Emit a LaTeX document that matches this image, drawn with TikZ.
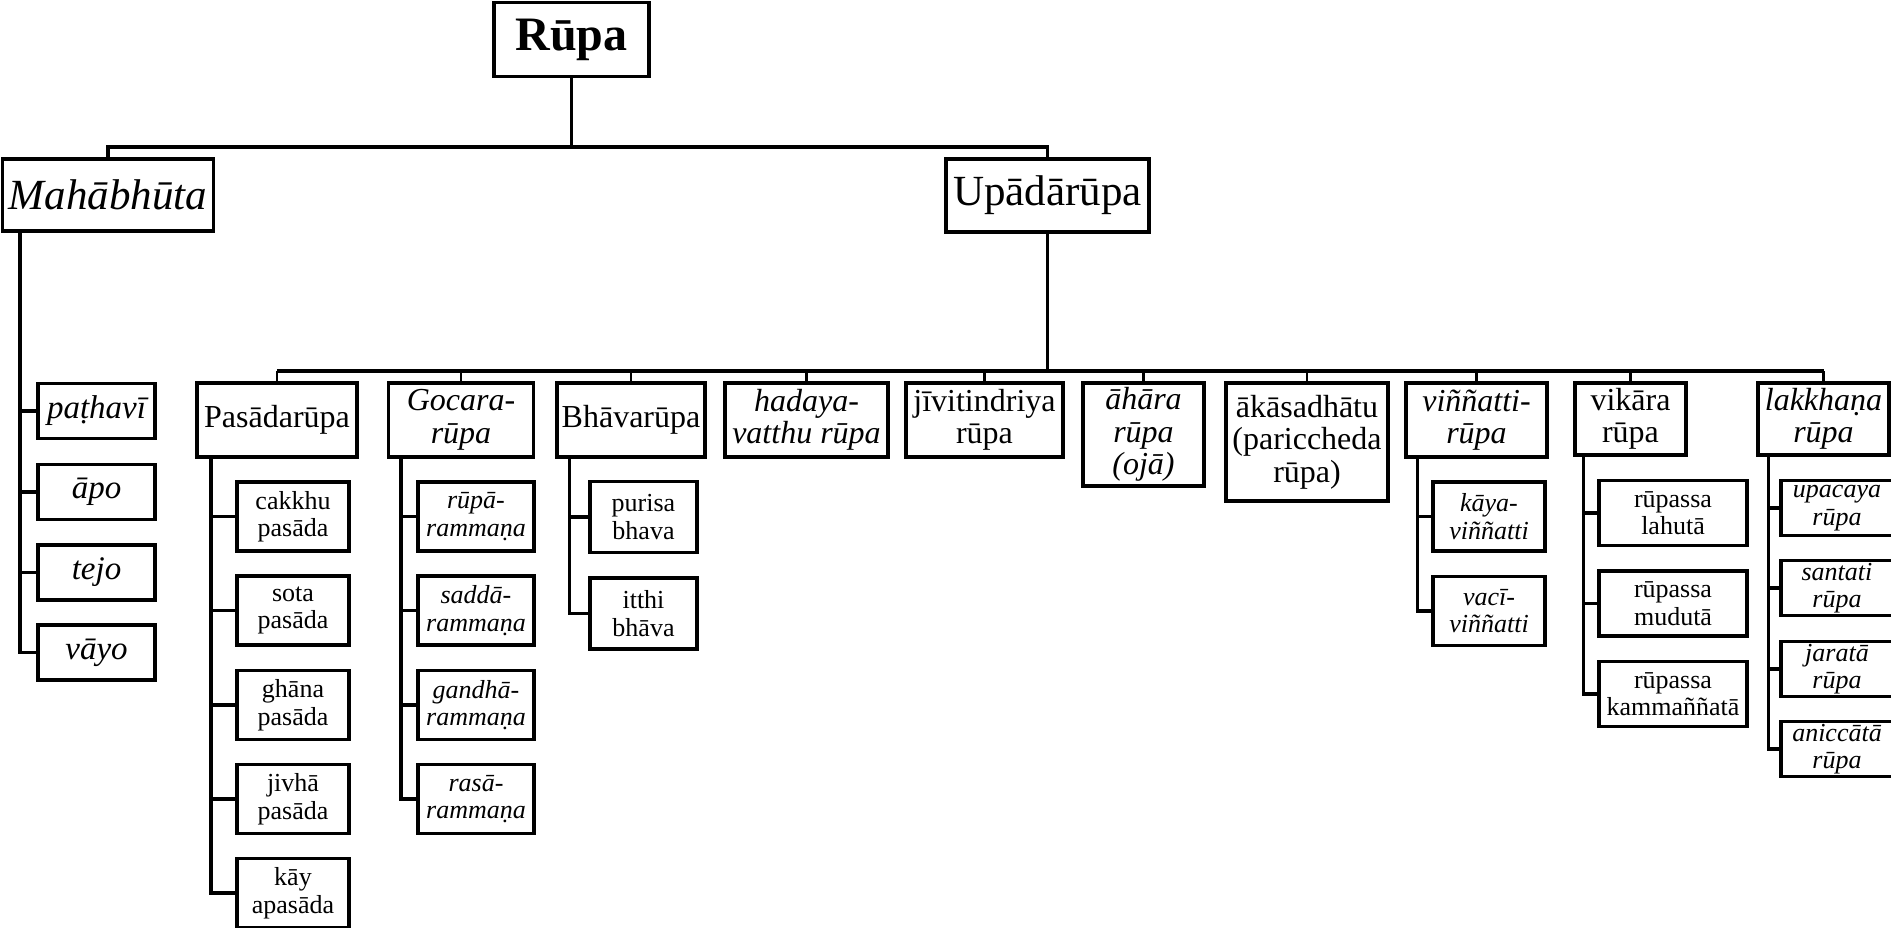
\documentclass[tikz,border=0pt]{standalone}
\usepackage{fontspec}
\setmainfont{Liberation Serif}
\usetikzlibrary{calc}

\tikzset{
  box/.style={draw, line width=3.2pt, inner sep=0pt, align=center},
  wire/.style={line width=3.2pt},
  riser/.style={line width=2.4pt},
  topfont/.style={font=\fontsize{43}{46}\selectfont},
  topfontit/.style={font=\fontsize{43}{46}\selectfont\itshape},
  midfont/.style={font=\fontsize{32}{32.5}\selectfont},
  midfontit/.style={font=\fontsize{32}{32.5}\selectfont\itshape},
  lowfont/.style={font=\fontsize{26}{27.5}\selectfont},
  lowfontit/.style={font=\fontsize{26}{27.5}\selectfont\itshape},
  elem/.style={box, font=\fontsize{33}{34}\selectfont\itshape, minimum width=117pt, minimum height=55pt},
  mid/.style={box, minimum height=74pt},
  pas/.style={box, lowfont, minimum width=112pt, minimum height=69pt},
  goc/.style={box, lowfontit, minimum width=116pt, minimum height=69pt},
  bha/.style={box, lowfont, minimum width=107pt, minimum height=71pt},
  vin/.style={box, lowfontit, minimum width=112pt, minimum height=69pt},
  vik/.style={box, lowfont, minimum width=148pt, minimum height=65pt},
  lak/.style={box, lowfontit, minimum width=112pt, minimum height=55pt},
}

\begin{document}
\begin{tikzpicture}[x=1pt,y=-1pt]
\clip (0,0) rectangle (1891,928);

% root and its two branches
\node[box, font=\fontsize{48}{50}\selectfont\bfseries, minimum width=155pt, minimum height=74pt] (rupa) at (571.5,39.5) {\raisebox{-3pt}{Rūpa}};
\node[box, topfontit, minimum width=211pt, minimum height=72pt] (maha) at (108,195) {Mahābhūta};
\node[box, topfont, minimum width=203pt, minimum height=73pt] (upada) at (1047.5,195.5) {Upādārūpa};

\coordinate (top) at (571.5,147);
\draw[wire] (rupa.south) -- (top);
\draw[wire] (maha.north) |- (top);
\draw[wire] (upada.north) |- (top);

% the four great elements
\node[elem] (e1) at (96.5,411)   {paṭhavī};
\node[elem] (e2) at (96.5,492)   {āpo};
\node[elem] (e3) at (96.5,572.5) {tejo};
\node[elem] (e4) at (96.5,652.5) {vāyo};
\foreach \n in {e1,e2,e3,e4}
  \draw[wire] ([xshift=19pt]maha.south west) |- (\n.west);

% derived matter
\node[mid, midfont,   minimum width=160pt] (pasada)   at (277,420)    {Pasādarūpa};
\node[mid, midfontit, minimum width=145pt] (gocara)   at (461,420)    {Gocara-\\rūpa};
\node[mid, midfont,   minimum width=148pt] (bhava)    at (631,420)    {Bhāvarūpa};
\node[mid, midfontit, minimum width=163pt] (hadaya)   at (806.5,420)  {hadaya-\\vatthu rūpa};
\node[mid, midfont,   minimum width=157pt] (jivit)    at (984.5,420)  {jīvitindriya\\rūpa};
\node[box, midfontit, minimum width=121pt, minimum height=103pt] (ahara) at (1143.5,434.5) {āhāra\\rūpa\\(ojā)};
\node[box, midfont,   minimum width=162pt, minimum height=118pt] (akasa) at (1307,442) {ākāsadhātu\\(pariccheda\\rūpa)};
\node[mid, midfontit, minimum width=141pt] (vinnatti) at (1476.5,420) {viññatti-\\rūpa};
\node[box, midfont,   minimum width=111pt, minimum height=72pt] (vikara)   at (1630.5,419) {vikāra\\rūpa};
\node[box, midfontit, minimum width=131pt, minimum height=72pt] (lakkhana) at (1823.5,419) {lakkhaṇa\\rūpa};

\coordinate (bus) at (1047.5,371);
\draw[wire] (upada.south) -- (bus);
\draw[wire] (pasada.north |- bus) -- (lakkhana.north |- bus);
\foreach \n in {pasada,gocara,bhava,hadaya,jivit,ahara,akasa,vinnatti,vikara,lakkhana}
  \draw[riser] (\n.north) -- (\n.north |- bus);

% sense organs
\node[pas] (p1) at (293,516.5) {cakkhu\\pasāda};
\node[pas] (p2) at (293,610.5) {sota\\pasāda};
\node[pas] (p3) at (293,705)   {ghāna\\pasāda};
\node[pas] (p4) at (293,799)   {jivhā\\pasāda};
\node[pas] (p5) at (293,893)   {kāy\\apasāda};
\foreach \n in {p1,p2,p3,p4,p5}
  \draw[wire] ([xshift=15.5pt]pasada.south west) |- (\n.west);

% sense objects
\node[goc] (g1) at (476,516.5) {rūpā-\\rammaṇa};
\node[goc] (g2) at (476,610.5) {saddā-\\rammaṇa};
\node[goc] (g3) at (476,705)   {gandhā-\\rammaṇa};
\node[goc] (g4) at (476,799)   {rasā-\\rammaṇa};
\foreach \n in {g1,g2,g3,g4}
  \draw[wire] ([xshift=14pt]gocara.south west) |- (\n.west);

% sex
\node[bha] (b1) at (643.5,517)   {purisa\\bhava};
\node[bha] (b2) at (643.5,613.5) {itthi\\bhāva};
\foreach \n in {b1,b2}
  \draw[wire] ([xshift=14pt]bhava.south west) |- (\n.west);

% intimation
\node[vin] (v1) at (1489,516.5) {kāya-\\viññatti};
\node[vin] (v2) at (1489,611)   {vacī-\\viññatti};
\foreach \n in {v1,v2}
  \draw[wire] ([xshift=13pt]vinnatti.south west) |- (\n.west);

% mutability
\node[vik] (k1) at (1673,513)   {rūpassa\\lahutā};
\node[vik] (k2) at (1673,603.5) {rūpassa\\mudutā};
\node[vik] (k3) at (1673,694)   {rūpassa\\kammaññatā};
\foreach \n in {k1,k2,k3}
  \draw[wire] ([xshift=10pt]vikara.south west) |- (\n.west);

% characteristics
\node[lak] (l1) at (1837,508) {upacaya\\rūpa};
\node[lak] (l2) at (1837,588) {santati\\rūpa};
\node[lak] (l3) at (1837,669) {jaratā\\rūpa};
\node[lak] (l4) at (1837,749) {aniccātā\\rūpa};
\foreach \n in {l1,l2,l3,l4}
  \draw[wire] ([xshift=12pt]lakkhana.south west) |- (\n.west);
\end{tikzpicture}
\end{document}
